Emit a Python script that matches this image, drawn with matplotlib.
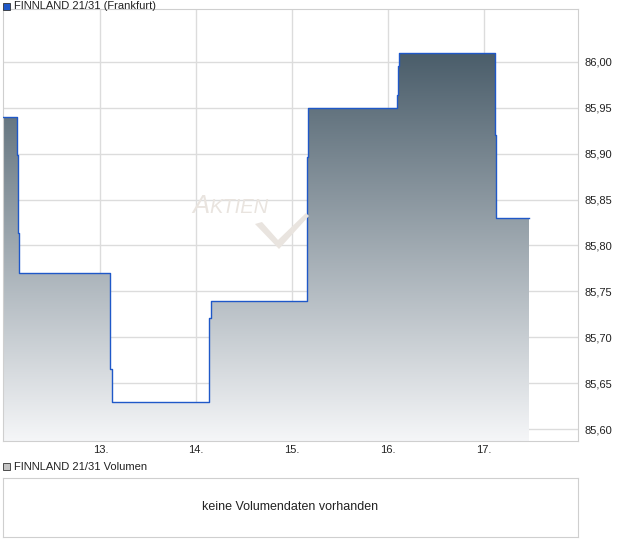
import numpy as np
import matplotlib.pyplot as plt
from matplotlib.colors import LinearSegmentedColormap
from matplotlib.patches import Rectangle, Polygon

plt.rcParams['font.family'] = ['Liberation Sans', 'DejaVu Sans']

# step data (day of month, price)
times = [11.99, 12.132, 12.139, 12.149, 13.097, 13.104, 13.118, 14.128, 14.135,
         14.149, 15.153, 15.159, 15.170, 16.097, 16.104, 16.118, 17.118, 17.125, 17.469]
prices = [85.94, 85.898, 85.813, 85.77, 85.734, 85.665, 85.63, 85.657, 85.721,
          85.739, 85.792, 85.896, 85.95, 85.964, 85.995, 86.01, 85.92, 85.83, 85.83]
x_ticks = [13, 14, 15, 16, 17]
x_labels = ["13.", "14.", "15.", "16.", "17."]
y_ticks = [85.60, 85.65, 85.70, 85.75, 85.80, 85.85, 85.90, 85.95, 86.00]

W, H = 620, 546
fig = plt.figure(figsize=(W / 100, H / 100), dpi=100)

def fx(px):
    return px / W

def fy(py):
    return 1 - py / H

grid_c = "#dcdcdc"
border_c = "#cfcfcf"

ax = fig.add_axes([fx(3), fy(441), fx(578) - fx(3), fy(9) - fy(441)])
xmin, xmax = 11.985, 17.98
ymin, ymax = 85.587, 86.0575
ax.set_xlim(xmin, xmax)
ax.set_ylim(ymin, ymax)

# gradient fill under the step line
fill = ax.fill_between(times, prices, ymin, step="post", facecolor="none", edgecolor="none")
cmap = LinearSegmentedColormap.from_list("g", ["#f5f6f8", "#4a5d6a"])
grad = np.linspace(0, 1, 256).reshape(-1, 1)
top = max(prices)
im = ax.imshow(grad, extent=[xmin, xmax, ymin, top], origin="lower", aspect="auto",
               cmap=cmap, zorder=2)
im.set_clip_path(fill.get_paths()[0], transform=ax.transData)
ax.step(times, prices, where="post", color="#1f58c8", lw=1.0, zorder=3)

ax.set_xticks(x_ticks)
ax.set_xticklabels(x_labels)
ax.set_yticks(y_ticks)
ax.set_yticklabels([f"{v:.2f}".replace(".", ",") for v in y_ticks])
ax.yaxis.tick_right()
ax.tick_params(length=0, labelsize=8, colors="#222222")
ax.tick_params(axis="y", pad=5)
ax.tick_params(axis="x", pad=3)
ax.grid(True, color=grid_c, lw=1.0, zorder=0)
ax.set_axisbelow(True)
for s in ax.spines.values():
    s.set_color(border_c)

# watermark
wm_c = "#e9e4df"
fig.text(fx(192), fy(213), "A", fontsize=18.5, style="italic", color=wm_c,
         va="baseline", ha="left", zorder=0.5)
fig.text(fx(209), fy(213), "KTIEN", fontsize=14.5, style="italic", color=wm_c,
         va="baseline", ha="left", zorder=0.5)
check = [(255, 224), (262, 222), (278, 240), (306, 213), (309, 216), (279, 249)]
fig.patches.append(Polygon([(fx(a), fy(b)) for a, b in check], closed=True,
                           transform=fig.transFigure, facecolor=wm_c,
                           edgecolor="none", zorder=0.5))

# legend labels
fig.patches.append(Rectangle((fx(3), fy(10)), fx(7), 7 / H, transform=fig.transFigure,
                             facecolor="#1f58c8", edgecolor="#333333", lw=0.6))
fig.text(fx(14), fy(6), "FINNLAND 21/31 (Frankfurt)", fontsize=8, va="center",
         ha="left", color="#222222")
fig.patches.append(Rectangle((fx(3), fy(470)), fx(7), 7 / H, transform=fig.transFigure,
                             facecolor="#c4c4c4", edgecolor="#333333", lw=0.6))
fig.text(fx(14), fy(467), "FINNLAND 21/31 Volumen", fontsize=8, va="center",
         ha="left", color="#222222")

# volume panel
ax2 = fig.add_axes([fx(3), fy(537), fx(578) - fx(3), fy(478) - fy(537)])
ax2.set_xticks([])
ax2.set_yticks([])
for s in ax2.spines.values():
    s.set_color(border_c)
ax2.text(0.5, 0.5, "keine Volumendaten vorhanden", transform=ax2.transAxes,
         ha="center", va="center", fontsize=9, color="#222222")

fig.savefig("out.png", dpi=100)
